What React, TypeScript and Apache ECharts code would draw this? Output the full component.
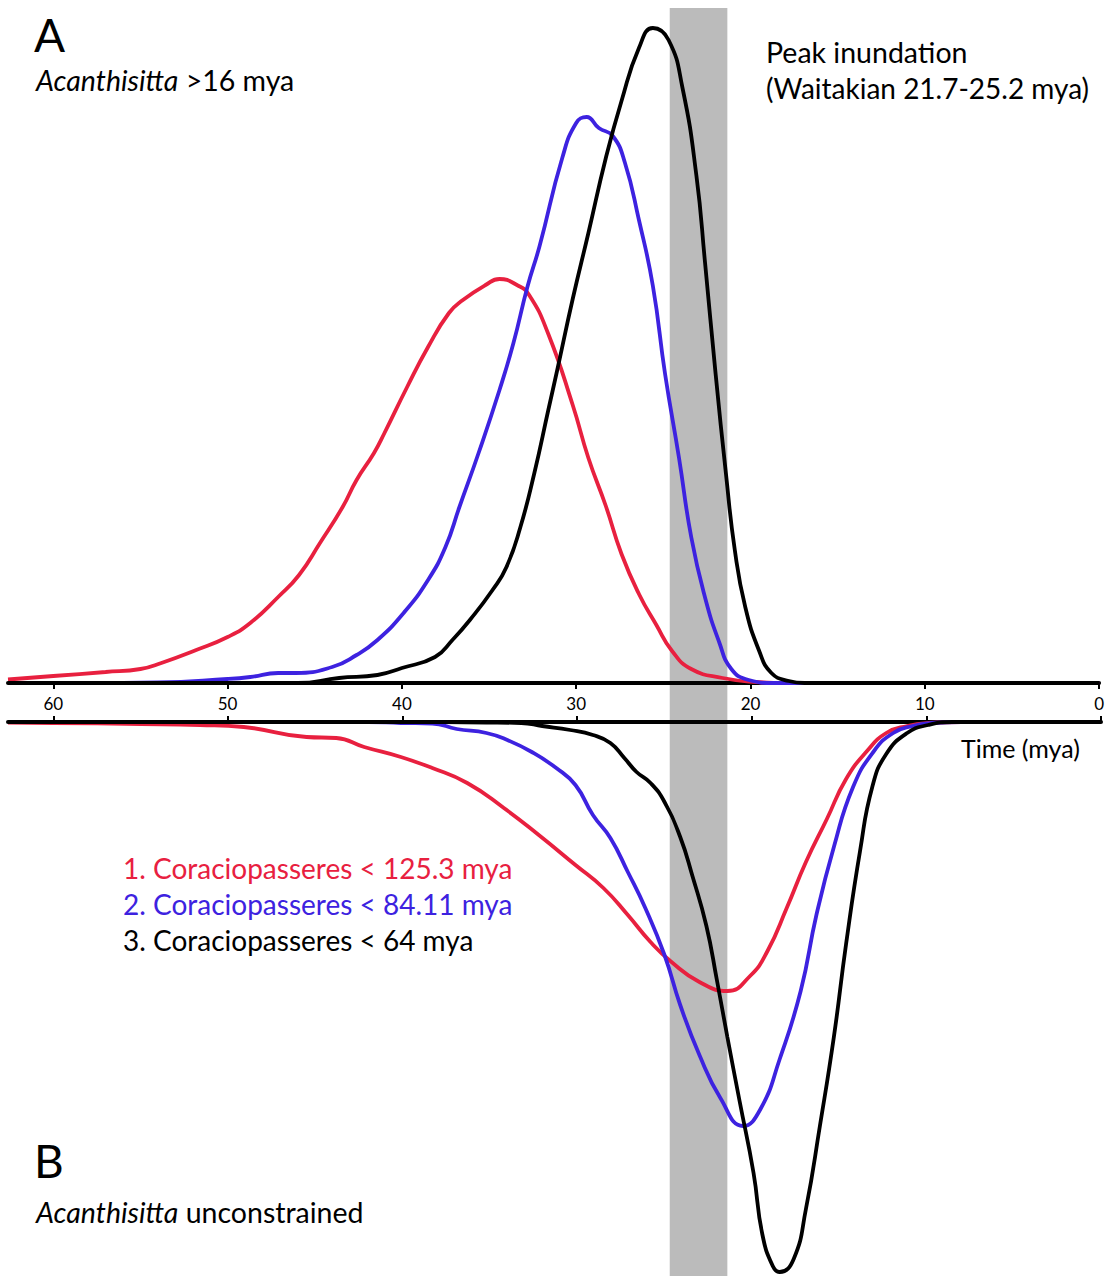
import React, { useEffect, useRef } from "react";
import * as echarts from "echarts";

// Time (mya) on x, density (arbitrary units) on y
const tickValues = [0, 10, 20, 30, 40, 50, 60];
const seriesNames = [
  "1. Coraciopasseres < 125.3 mya",
  "2. Coraciopasseres < 84.11 mya",
  "3. Coraciopasseres < 64 mya",
];
const seriesColors = ["#e8203f", "#3d22e0", "#000000"];
const peakInundation = [21.4, 24.7];

// Panel A: Acanthisitta >16 mya
const topRed: number[][] = [
  [62.6, 3.5], [60, 7], [57, 11], [55, 14], [53.8, 20], [51.8, 33], [50, 46], [48.7, 60],
  [47.1, 86], [45.9, 108], [44.7, 140], [43.4, 176], [42.6, 203], [41.6, 230], [41, 250],
  [39.7, 296], [38.5, 336], [37.3, 370], [36.5, 383], [35.2, 398], [34.4, 404], [33.4, 398],
  [32.7, 388], [31.6, 349], [30.2, 278], [29.3, 225], [28.3, 177], [27.4, 129], [26.4, 89],
  [25.4, 58], [24.5, 32], [23.4, 14], [21.6, 5], [19.7, 1], [18, 0], [0, 0],
];
const topBlue: number[][] = [
  [62.6, 0], [58, 0], [54, 0.5], [50, 4], [48.7, 6], [47.1, 10], [46.1, 10], [44, 16],
  [42.6, 28], [41.4, 43], [39.9, 70], [38.5, 103], [37.5, 136], [36.7, 176], [35.6, 230],
  [34.4, 293], [33.6, 340], [32.8, 396], [32.1, 437], [30.8, 525], [30, 560], [29.4, 566],
  [28.7, 555], [27.9, 547], [27.2, 520], [26.4, 463], [25.6, 397], [24.9, 309], [24.1, 225],
  [23.4, 146], [22.6, 85], [21.8, 41], [21.1, 14], [20.1, 3], [18.7, 0], [0, 0],
];
const topBlack: number[][] = [
  [62.6, 0], [46, 0], [43.6, 5], [41.4, 8], [40, 15], [38.1, 26], [37.1, 43], [36.1, 63],
  [34.8, 93], [34, 116], [33.2, 156], [32.4, 210], [31.6, 273], [31.1, 312], [30.2, 384],
  [29.3, 450], [28.3, 525], [27.4, 582], [26.4, 635], [25.6, 655], [24.7, 643], [23.9, 595],
  [23.1, 507], [22.6, 419], [22, 309], [21.4, 208], [20.9, 133], [20.3, 76], [19.5, 32],
  [18.8, 10], [17.8, 2], [16.9, 0], [0, 0],
];

// Panel B: Acanthisitta unconstrained (drawn downward)
const botRed: number[][] = [
  [62.6, 0.5], [60, 1], [55, 2], [51.6, 3], [49.1, 5], [45.5, 15], [43.8, 16], [42.2, 25],
  [40.1, 35], [38.3, 46], [36.3, 61], [34.2, 86], [32.2, 113], [30.1, 143], [28.5, 166],
  [27.1, 193], [25.8, 220], [24.6, 240], [23, 260], [21.4, 269], [20.1, 254], [19.1, 229],
  [18, 186], [16.9, 140], [15.7, 97], [14.6, 57], [13.4, 29], [12.3, 11], [11.1, 4],
  [9.9, 1], [8, 0], [0, 0],
];
const botBlue: number[][] = [
  [62.6, 0], [42, 0], [40.1, 1], [38.3, 1.5], [36.9, 7], [35.2, 11], [34, 18], [32.6, 30],
  [31.2, 46], [30.1, 63], [29.1, 93], [28.1, 116], [27.1, 150], [26.1, 186], [25, 233],
  [24.1, 283], [23, 333], [21.8, 376], [20.5, 404], [19.5, 387], [18.4, 337], [17.2, 269],
  [16.3, 193], [15.3, 125], [14.2, 65], [13, 29], [11.9, 11], [10.8, 4], [9.7, 1], [8, 0],
  [0, 0],
];
const botBlack: number[][] = [
  [62.6, 0], [40, 0], [35.2, 0.5], [33.2, 1], [32, 4], [30.4, 8], [29.1, 13], [28.1, 21],
  [27.3, 36], [26.6, 50], [25.8, 61], [25, 80], [24.1, 115], [23.4, 154], [22.6, 204],
  [22, 258], [21.4, 315], [20.7, 379], [19.9, 451], [19.4, 512], [18.8, 544], [18.4, 550],
  [17.6, 537], [16.9, 487], [16.1, 404], [15.3, 315], [14.6, 222], [13.8, 129], [13.1, 65],
  [12.3, 32], [11.1, 11], [9.9, 3], [8.5, 0], [0, 0],
];

const FONT = "Lato";
const TXT = 28.5;

export default function App() {
  const ref = useRef<HTMLDivElement>(null);
  useEffect(() => {
    if (!ref.current) return;
    const chart = echarts.init(ref.current, null, { renderer: "svg" });
    const xBase = {
      type: "value" as const,
      min: 0,
      max: 62.6,
      interval: 10,
      inverse: true,
      splitLine: { show: false },
    };
    const line = (data: number[][], color: string, xi: number, name: string) => ({
      type: "line",
      name,
      xAxisIndex: xi,
      yAxisIndex: xi,
      data,
      showSymbol: false,
      smooth: 0.5,
      lineStyle: { color, width: 3.8 },
      z: 2,
    });
    const option: any = {
      animation: false,
      backgroundColor: "#ffffff",
      grid: [
        { left: 8, right: 6, top: 8, bottom: 593 },
        { left: 8, right: 6, top: 722, bottom: 0 },
        { left: 8, right: 6, top: 8, bottom: 0 },
      ],
      xAxis: [
        {
          ...xBase,
          gridIndex: 0,
          position: "bottom",
          axisLine: { show: true, lineStyle: { color: "#000", width: 4 } },
          axisTick: { show: true, length: 6, lineStyle: { color: "#000", width: 2 }, customValues: tickValues },
          axisLabel: {
            show: true,
            color: "#000",
            fontSize: 17,
            fontFamily: FONT,
            margin: 12,
            customValues: tickValues,
          },
        },
        {
          ...xBase,
          gridIndex: 1,
          position: "top",
          axisLine: { show: true, lineStyle: { color: "#000", width: 4 } },
          axisTick: { show: true, length: 6, lineStyle: { color: "#000", width: 2 }, customValues: tickValues },
          axisLabel: { show: false },
        },
        { ...xBase, gridIndex: 2, show: false },
      ],
      yAxis: [
        { type: "value", gridIndex: 0, min: 0, max: 675, show: false },
        { type: "value", gridIndex: 1, min: 0, max: 554, inverse: true, show: false },
        { type: "value", gridIndex: 2, min: 0, max: 1, show: false },
      ],
      series: [
        line(topRed, seriesColors[0], 0, seriesNames[0]),
        line(topBlue, seriesColors[1], 0, seriesNames[1]),
        line(topBlack, seriesColors[2], 0, seriesNames[2]),
        line(botRed, seriesColors[0], 1, seriesNames[0]),
        line(botBlue, seriesColors[1], 1, seriesNames[1]),
        line(botBlack, seriesColors[2], 1, seriesNames[2]),
        {
          type: "line",
          name: "Peak inundation",
          xAxisIndex: 2,
          yAxisIndex: 2,
          data: [],
          z: 5,
          silent: true,
          markArea: {
            silent: true,
            itemStyle: { color: "rgba(0,0,0,0.265)" },
            data: [[{ xAxis: peakInundation[1] }, { xAxis: peakInundation[0] }]],
          },
        },
      ],
      graphic: [
        { type: "text", x: 34, y: 34, style: { text: "A", fontSize: 46, fontFamily: FONT, fill: "#000", verticalAlign: "middle" } },
        {
          type: "text", x: 36, y: 80,
          style: {
            text: "{i|Acanthisitta} >16 mya", fontSize: TXT, fontFamily: FONT, fill: "#000", verticalAlign: "middle",
            rich: { i: { fontStyle: "italic", fontSize: TXT, fontFamily: FONT, fill: "#000" } },
          },
        },
        { type: "text", x: 766, y: 52, style: { text: "Peak inundation", fontSize: TXT, fontFamily: FONT, fill: "#000", verticalAlign: "middle" } },
        { type: "text", x: 766, y: 88, style: { text: "(Waitakian 21.7-25.2 mya)", fontSize: 28, fontFamily: FONT, fill: "#000", verticalAlign: "middle" } },
        { type: "text", x: 961, y: 748, style: { text: "Time (mya)", fontSize: 25, fontFamily: FONT, fill: "#000", verticalAlign: "middle" } },
        { type: "text", x: 123, y: 868, style: { text: seriesNames[0], fontSize: 28, fontFamily: FONT, fill: seriesColors[0], verticalAlign: "middle" } },
        { type: "text", x: 123, y: 904, style: { text: seriesNames[1], fontSize: 28, fontFamily: FONT, fill: seriesColors[1], verticalAlign: "middle" } },
        { type: "text", x: 123, y: 940, style: { text: seriesNames[2], fontSize: 28, fontFamily: FONT, fill: seriesColors[2], verticalAlign: "middle" } },
        { type: "text", x: 34, y: 1160, style: { text: "B", fontSize: 46, fontFamily: FONT, fill: "#000", verticalAlign: "middle" } },
        {
          type: "text", x: 36, y: 1212,
          style: {
            text: "{i|Acanthisitta} unconstrained", fontSize: TXT, fontFamily: FONT, fill: "#000", verticalAlign: "middle",
            rich: { i: { fontStyle: "italic", fontSize: TXT, fontFamily: FONT, fill: "#000" } },
          },
        },
      ],
    };
    chart.setOption(option);
    return () => chart.dispose();
  }, []);
  return (
    <div
      ref={ref}
      style={{ position: "absolute", left: 0, top: 0, width: 1107, height: 1276, background: "#fff" }}
    />
  );
}
